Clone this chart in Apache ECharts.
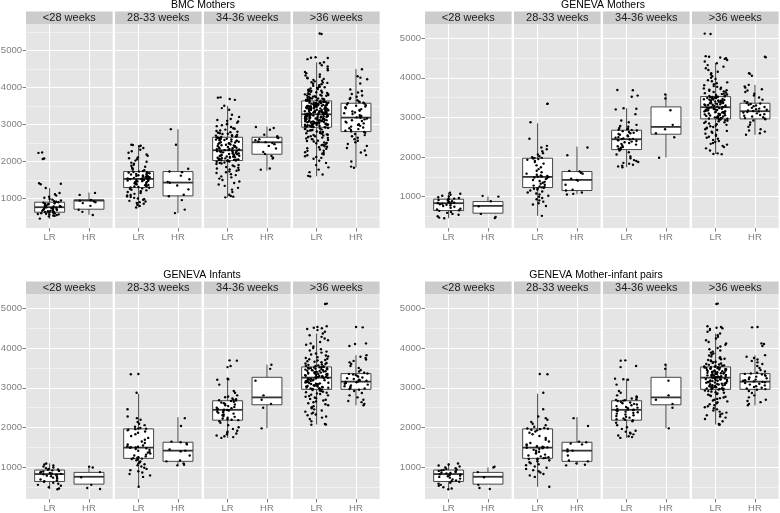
<!DOCTYPE html>
<html><head><meta charset="utf-8">
<script src="https://cdn.jsdelivr.net/npm/echarts@6/dist/echarts.min.js"></script>
<style>html,body{margin:0;padding:0;background:#fff}#c{width:780px;height:513px}</style>
</head><body><div id="c"></div><script>
// ---------- labels ----------
const panelTitles = ['BMC Mothers', 'GENEVA Mothers', 'GENEVA Infants', 'GENEVA Mother-infant pairs'];
const facetNames = ['<28 weeks', '28-33 weeks', '34-36 weeks', '>36 weeks'];
const riskGroups = ['LR', 'HR'];
const yTickValues = [1000, 2000, 3000, 4000, 5000];
const yMinorValues = [500, 1500, 2500, 3500, 4500, 5500];

// ---------- BMC Mothers: individual values ----------
const bmcLt28LR = [2245, 2232, 2081, 2068, 1412, 1398, 1385, 1284, 1148, 1116, 1079, 1047, 1023, 988, 972, 946, 931, 912, 898, 887, 874, 861, 853, 838, 822, 808, 797, 788, 779, 768, 761, 754, 748, 737, 726, 718, 709, 698, 691, 682, 671, 663, 655, 646, 638, 631, 622, 614, 606, 598, 591, 583, 574, 566, 553, 541, 532, 518, 458];
const bmcLt28HR = [1152, 1098, 962, 951, 943, 928, 901, 877, 803, 698, 641, 557];
const bmc2833LR = [2452, 2443, 2427, 2408, 2362, 2318, 2276, 2234, 2187, 2153, 2112, 2089, 2061, 2024, 1993, 1968, 1939, 1912, 1884, 1858, 1829, 1803, 1781, 1763, 1741,
  1727, 1718, 1711, 1699, 1692, 1683, 1671, 1662, 1649, 1641, 1628, 1621, 1609, 1603, 1592, 1586, 1577, 1571, 1561, 1557, 1548, 1542, 1539, 1535, 1531,
  1524, 1519, 1508, 1503, 1494, 1487, 1477, 1469, 1462, 1451, 1439, 1431, 1419, 1411, 1401, 1393, 1382, 1376, 1364, 1357, 1344, 1336, 1323, 1313, 1301,
  1291, 1273, 1262, 1238, 1221, 1198, 1177, 1149, 1126, 1098, 1082, 1058, 1041, 1019, 1002, 983, 967, 938, 921, 902, 879, 861, 828, 802, 758];
const bmc2833HR = [2872, 2451, 1802, 1731, 1712, 1618, 1522, 1447, 1428, 1352, 1248, 1102, 1061, 958, 702, 607];
const bmc3436LR = [3731, 3722, 3688, 3663, 3502, 3441, 3398, 3262, 3203, 3148, 3121, 3097, 3082, 3048, 3021, 3002, 2978, 2953, 2931, 2898, 2882, 2861, 2838, 2822, 2801, 2789, 2778, 2761, 2748, 2742, 2719, 2711, 2698, 2691, 2678, 2671, 2661,
  2651, 2641, 2632, 2627, 2613, 2607, 2597, 2591, 2578, 2572, 2561, 2553, 2542, 2534, 2521, 2513, 2501, 2492, 2479, 2471, 2459, 2451, 2438, 2431, 2419, 2411, 2398, 2391, 2379, 2371, 2358, 2349, 2341, 2329, 2322, 2311, 2306,
  2299, 2294, 2284, 2279, 2268, 2263, 2252, 2247, 2236, 2231, 2219, 2215, 2203, 2197, 2186, 2181, 2171, 2163, 2154, 2147, 2136, 2131, 2121, 2116, 2104, 2099, 2088, 2083, 2072, 2067, 2057, 2051, 2043, 2039, 2032, 2028, 2026,
  2019, 2011, 1998, 1991, 1973, 1962, 1944, 1931, 1908, 1892, 1868, 1851, 1829, 1812, 1788, 1771, 1748, 1732, 1708, 1691, 1658, 1633, 1598, 1572, 1538, 1502, 1458, 1421, 1378, 1342, 1288, 1241, 1178, 1102, 1068, 1051, 1032];
const bmc3436HR = [2931, 2902, 2858, 2721, 2682, 2648, 2631, 2602, 2571, 2538, 2522, 2498, 2468, 2421, 2352, 2258, 2201, 2148, 2102, 2079, 1812, 1779];
const bmcGt36LR = [5452, 5441, 4812, 4798, 4791, 4762, 4678, 4652, 4598, 4563, 4502, 4461, 4418, 4383, 4348, 4321, 4287, 4262, 4228, 4203, 4179, 4162, 4138, 4121, 4098, 4083, 4061, 4042, 4019, 4002, 3987, 3968, 3957, 3938, 3927, 3908, 3896, 3879, 3868, 3851, 3838, 3832, 3819, 3811, 3798, 3791, 3778, 3772, 3759, 3751, 3738, 3733, 3719, 3712, 3698, 3691, 3679, 3671, 3659, 3652, 3646, 3638,
  3631, 3623, 3619, 3611, 3607, 3598, 3596, 3587, 3583, 3574, 3571, 3563, 3559, 3551, 3547, 3538, 3536, 3527, 3523, 3514, 3511, 3503, 3499, 3491, 3487, 3478, 3476, 3467, 3463, 3454, 3451, 3443, 3439, 3431, 3427, 3418, 3416, 3407, 3403, 3394, 3391, 3383, 3379, 3371, 3367, 3358, 3356, 3347, 3343, 3334, 3331, 3323, 3319, 3311, 3307, 3298, 3296, 3287, 3283, 3277,
  3271, 3264, 3259, 3251, 3246, 3238, 3233, 3226, 3219, 3213, 3207, 3199, 3194, 3186, 3181, 3173, 3168, 3161, 3154, 3148, 3142, 3134, 3129, 3121, 3116, 3108, 3103, 3096, 3089, 3083, 3077, 3069, 3064, 3056, 3051, 3043, 3038, 3031, 3024, 3018, 3012, 3004, 2999, 2991, 2986, 2978, 2973, 2966, 2959, 2953, 2947, 2941, 2936, 2931, 2927,
  2918, 2906, 2893, 2879, 2866, 2851, 2838, 2823, 2809, 2794, 2779, 2763, 2748, 2732, 2716, 2698, 2681, 2662, 2644, 2623, 2604, 2583, 2561, 2539, 2516, 2492, 2468, 2441, 2413, 2386, 2356, 2322, 2289, 2251, 2212, 2168, 2121, 2072, 2018, 1962, 1903, 1842, 1781, 1712, 1648, 1612, 1598,
  3612, 3588, 3561, 3540, 3522, 3497, 3475, 3458, 3436, 3412, 3395, 3372, 3350, 3333, 3309, 3291, 3268, 3247, 3229, 3205, 3188, 3166, 3145, 3127, 3102, 3085, 3061, 3044, 3022, 3001, 2981, 2962, 2944,
  3905, 3862, 3814, 3777, 3741, 3702, 3668, 4012, 4128, 4244, 2878, 2841, 2802, 2761, 2722, 2683, 2638, 2597, 2552, 2503, 2451, 2398, 2344, 2287, 2232, 2191, 2143, 2098,
  3518, 3442, 3363, 3284, 3209, 3137, 3058, 2986, 3574, 3496, 3421, 3344, 3268, 3194, 3112, 3036];
const bmcGt36HR = [4488, 4302, 4262, 4221, 4103, 3942, 3902, 3861, 3822, 3781, 3748, 3712, 3688, 3652, 3621, 3603, 3588, 3576,
  3563, 3541, 3518, 3502, 3481, 3462, 3438, 3413, 3392, 3371, 3348, 3322, 3301, 3278, 3252, 3228, 3208, 3191,
  3178, 3158, 3137, 3114, 3092, 3071, 3049, 3027, 3006, 2983, 2962, 2941, 2918, 2896, 2874, 2852, 2831, 2812,
  2798, 2772, 2741, 2712, 2679, 2641, 2602, 2561, 2518, 2472, 2421, 2362, 2298, 2241, 2172, 1998, 1862, 1832];

// ---------- BMC Mothers: box statistics [lower whisker, Q1, median, Q3, upper whisker] ----------
const bmcBoxLt28 = [[452, 631, 766, 901, 1279], [560, 712, 945, 964, 1162]];
const bmcBox2833 = [[757, 1297, 1530, 1728, 2440], [604, 1072, 1431, 1728, 2870]];
const bmcBox3436 = [[1027, 2025, 2303, 2654, 3500], [1755, 2196, 2519, 2654, 2942]];
const bmcBoxGt36 = [[1600, 2924, 3274, 3634, 4676], [1836, 2807, 3184, 3571, 4497]];

// ---------- GENEVA: individual values ----------
const genLt28LR = [1098, 1072, 1046, 1021, 998, 981, 962, 948, 937, 925, 912, 898, 884, 871, 858, 846, 838, 829, 818, 805, 792, 778, 761, 742, 718, 694, 671, 652, 638, 612, 588, 561, 538, 502, 468, 452];
const genLt28HR = [1018, 998, 882, 752, 561, 483, 458];
const gen2833LR = [3348, 3341, 2878, 2462, 2281, 2238, 2196, 2143, 2097, 2062, 2021, 1992, 1978, 1971, 1962, 1948, 1931, 1902, 1871, 1832, 1788, 1742, 1694, 1651, 1612, 1578, 1552, 1531, 1519, 1508, 1502, 1494, 1481, 1462, 1441, 1418, 1392, 1371, 1348, 1322, 1298, 1276, 1258, 1241, 1232, 1221, 1212, 1198, 1178, 1152, 1128, 1101, 1078, 1052, 1021, 992, 962, 931, 902, 871, 832, 798, 761, 512];
const gen2833HR = [2238, 2042, 1648, 1631, 1602, 1578, 1452, 1421, 1402, 1298, 1172, 1152, 1102, 1068, 1051];
const gen3436LR = [3692, 3684, 3551, 3522, 3231, 3218, 3202, 3082, 2921, 2878, 2812, 2781, 2762, 2731, 2712, 2698, 2687, 2679, 2668, 2652, 2631, 2612, 2598, 2581, 2562, 2541, 2521, 2502, 2488, 2471, 2458, 2451, 2442, 2431, 2418, 2402, 2388, 2371, 2352, 2331, 2312, 2292, 2271, 2251, 2231, 2211, 2198, 2188, 2162, 2121, 2062, 2011, 1968, 1921, 1898, 1872, 1851, 1831, 1802, 1782, 1761, 1742];
const gen3436HR = [3581, 3478, 3181, 2812, 2702, 2598, 2498, 1982];
const genGt36LR = [5118, 5108, 4548, 4531, 4512, 4498, 4478, 4452, 4412, 4368, 4321, 4282, 4242, 4198, 4152, 4118, 4082, 4041, 4002, 3971, 3938, 3912, 3886, 3862, 3838, 3812, 3791, 3772, 3752, 3733, 3718, 3702, 3688, 3671, 3658, 3642, 3628, 3612, 3601, 3588, 3578, 3566, 3557, 3548, 3539, 3531,
  3522, 3518, 3511, 3504, 3497, 3491, 3486, 3479, 3472, 3466, 3459, 3452, 3446, 3439, 3431, 3426, 3419, 3412, 3404, 3398, 3391, 3384, 3377, 3369, 3362, 3356, 3349, 3342, 3334, 3327, 3321, 3314, 3306, 3299, 3292, 3286, 3279, 3272, 3266, 3259,
  3252, 3246, 3238, 3231, 3224, 3216, 3209, 3202, 3194, 3187, 3179, 3172, 3166, 3158, 3151, 3143, 3136, 3128, 3121, 3113, 3106, 3098, 3091, 3083, 3076, 3068, 3061, 3053, 3046, 3038, 3031, 3023, 3016, 3008, 3001, 2993, 2986, 2978, 2971, 2965,
  2956, 2943, 2931, 2918, 2904, 2889, 2876, 2861, 2846, 2829, 2812, 2796, 2778, 2759, 2741, 2722, 2701, 2681, 2659, 2638, 2612, 2589, 2563, 2538, 2512, 2486, 2459, 2431, 2402, 2378, 2352, 2331, 2312, 2281, 2252, 2218, 2162, 2092, 2078, 2071];
const genGt36HR = [4532, 4521, 4118, 4102, 4051, 3822, 3781, 3752, 3712, 3678, 3641, 3598, 3551, 3502, 3448, 3412, 3381, 3362, 3351, 3338, 3321, 3302, 3282, 3262, 3241, 3222, 3208, 3192, 3178, 3162, 3151, 3138, 3121, 3102, 3082, 3061, 3041, 3021, 3002, 2982, 2968, 2951, 2921, 2872, 2812, 2761, 2702, 2668, 2641, 2598, 2562];

// ---------- GENEVA: box statistics ----------
const genBoxLt28 = [[453, 646, 832, 933, 1101], [579, 579, 764, 874, 1000]];
const genBox2833 = [[512, 1227, 1497, 1968, 2853], [1059, 1152, 1421, 1632, 2263]];
const genBox3436 = [[1741, 2187, 2448, 2676, 3232], [1985, 2575, 2760, 3265, 3585]];
const genBoxGt36 = [[2078, 2962, 3257, 3526, 4368], [2558, 2962, 3156, 3358, 3821]];

// y ranges of each panel
const bmcYRange = [205, 5710];
const genYRange = [205, 5360];

// ---------- assemble ----------
const bmcPoints = [[bmcLt28LR, bmcLt28HR], [bmc2833LR, bmc2833HR], [bmc3436LR, bmc3436HR], [bmcGt36LR, bmcGt36HR]];
const bmcBoxes = [bmcBoxLt28, bmcBox2833, bmcBox3436, bmcBoxGt36];
const genPoints = [[genLt28LR, genLt28HR], [gen2833LR, gen2833HR], [gen3436LR, gen3436HR], [genGt36LR, genGt36HR]];
const genBoxes = [genBoxLt28, genBox2833, genBox3436, genBoxGt36];
const panels = [
  { points: bmcPoints, boxes: bmcBoxes, yRange: bmcYRange },
  { points: genPoints, boxes: genBoxes, yRange: genYRange },
  { points: genPoints, boxes: genBoxes, yRange: genYRange },
  { points: genPoints, boxes: genBoxes, yRange: genYRange }
];

const FONT = '"Liberation Sans", Arial, Helvetica, sans-serif';
const FACET_W = 86.6, FACET_GAP = 2.4, STRIP_H = 12.5;
const layouts = [
  { left: 26, top: 24, height: 204, titleX: 203, titleY: 5 },
  { left: 425, top: 24, height: 204, titleX: 603, titleY: 5 },
  { left: 26, top: 294, height: 205, titleX: 202, titleY: 275 },
  { left: 425, top: 294, height: 205, titleX: 596, titleY: 275 }
];

// deterministic horizontal jitter (like geom_jitter), position only
function jitter(i, seed) {
  const s = Math.sin((i + 1) * 78.233 + seed * 12.9898) * 43758.5453;
  return ((s - Math.floor(s)) - 0.5) * 0.6;
}

function renderBox(params, api) {
  const x = api.value(0);
  const lo = api.coord([x, api.value(1)]);
  const q1 = api.coord([x, api.value(2)]);
  const md = api.coord([x, api.value(3)]);
  const q3 = api.coord([x, api.value(4)]);
  const hi = api.coord([x, api.value(5)]);
  const hw = api.size([0.76, 0])[0] / 2;
  const cx = q1[0];
  const st = { stroke: '#333', lineWidth: 0.9 };
  return {
    type: 'group', children: [
      { type: 'line', shape: { x1: cx, y1: hi[1], x2: cx, y2: q3[1] }, style: st },
      { type: 'line', shape: { x1: cx, y1: q1[1], x2: cx, y2: lo[1] }, style: st },
      { type: 'rect', shape: { x: cx - hw, y: q3[1], width: 2 * hw, height: q1[1] - q3[1] }, style: { fill: '#fff', stroke: '#333', lineWidth: 0.9 } },
      { type: 'line', shape: { x1: cx - hw, y1: md[1], x2: cx + hw, y2: md[1] }, style: { stroke: '#333', lineWidth: 1.8 } }
    ]
  };
}

const grid = [], xAxis = [], yAxis = [], series = [], graphic = [];
panels.forEach((p, pi) => {
  const L = layouts[pi];
  graphic.push({ type: 'text', silent: true, style: { x: L.titleX, y: L.titleY, text: panelTitles[pi], textAlign: 'center', textVerticalAlign: 'middle', font: '10.5px ' + FONT, fill: '#000' } });
  facetNames.forEach((fname, fi) => {
    const gi = grid.length;
    const left = L.left + fi * (FACET_W + FACET_GAP);
    grid.push({ left: left, top: L.top, width: FACET_W, height: L.height, show: true, backgroundColor: '#E5E5E5', borderWidth: 0, containLabel: false, outerBoundsMode: 'none' });
    graphic.push({ type: 'rect', silent: true, shape: { x: left, y: L.top - STRIP_H, width: FACET_W, height: STRIP_H }, style: { fill: '#CCCCCC' } });
    graphic.push({ type: 'text', silent: true, style: { x: left + FACET_W / 2, y: L.top - STRIP_H / 2, text: fname, textAlign: 'center', textVerticalAlign: 'middle', font: '11px ' + FONT, fill: '#1a1a1a' } });
    xAxis.push({
      gridIndex: gi, type: 'value', min: 0.4, max: 2.6,
      axisLine: { show: false },
      axisTick: { show: true, length: 3.5, lineStyle: { color: '#7f7f7f' }, customValues: [1, 2] },
      axisLabel: { customValues: [1, 2], formatter: v => riskGroups[Math.round(v) - 1], color: '#7f7f7f', fontSize: 9.5, fontFamily: FONT, margin: 4 },
      splitLine: { show: true, lineStyle: { color: '#ffffff', width: 1 } }
    });
    const [ymin, ymax] = p.yRange;
    yAxis.push({
      gridIndex: gi, type: 'value', min: ymin, max: ymax, position: 'right',
      axisLine: { show: false },
      axisTick: { show: false, customValues: yMinorValues },
      axisLabel: { show: false, customValues: yMinorValues },
      splitLine: { show: true, lineStyle: { color: '#F0F0F0', width: 1 } }
    });
    const yi = yAxis.length;
    yAxis.push({
      gridIndex: gi, type: 'value', min: ymin, max: ymax, position: 'left',
      axisLine: { show: false },
      axisTick: { show: fi === 0, length: 3.5, lineStyle: { color: '#7f7f7f' }, customValues: yTickValues },
      axisLabel: { show: fi === 0, customValues: yTickValues, formatter: v => String(Math.round(v)), color: '#7f7f7f', fontSize: 9.5, fontFamily: FONT, margin: 4 },
      splitLine: { show: true, lineStyle: { color: '#ffffff', width: 1 } }
    });
    series.push({
      type: 'custom', xAxisIndex: gi, yAxisIndex: yi, silent: true, z: 2,
      renderItem: renderBox,
      encode: { x: 0, y: [1, 2, 3, 4, 5] },
      data: p.boxes[fi].map((b, g) => [g + 1].concat(b))
    });
    const pts = [];
    p.points[fi].forEach((vals, g) => {
      vals.forEach((v, i) => pts.push([g + 1 + jitter(i, pi * 3.1 + fi * 1.7 + g * 0.9), v]));
    });
    series.push({
      type: 'scatter', xAxisIndex: gi, yAxisIndex: yi, silent: true, z: 3,
      symbol: 'circle', symbolSize: 2.4, itemStyle: { color: '#000', opacity: 1 },
      data: pts
    });
  });
});

const chart = echarts.init(document.getElementById('c'), null, { renderer: 'canvas' });
chart.setOption({
  animation: false,
  backgroundColor: '#ffffff',
  grid, xAxis, yAxis, series, graphic
});
</script></body></html>
